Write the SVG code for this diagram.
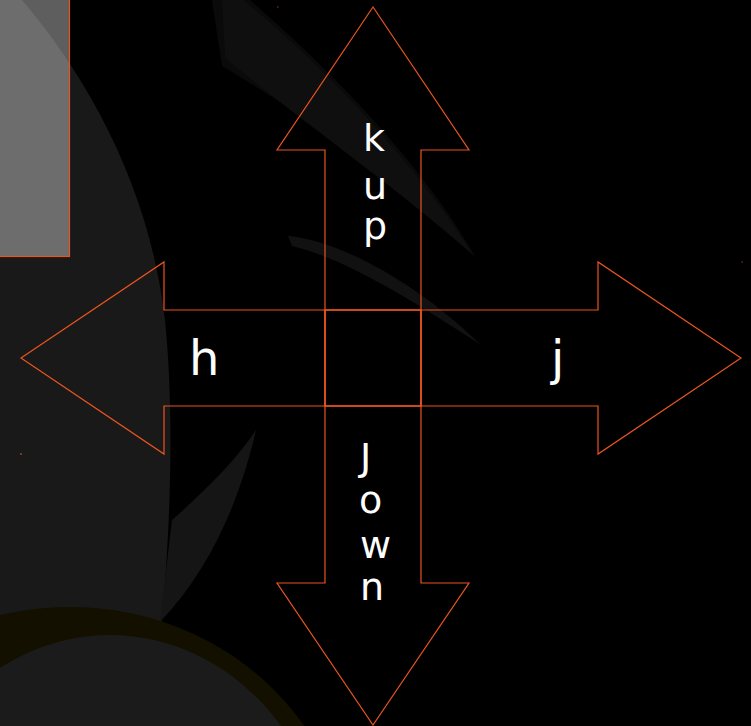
<svg xmlns="http://www.w3.org/2000/svg" width="751" height="726" viewBox="0 0 751 726">
  <style>
    .arrow { fill: none; stroke: #e9541f; stroke-width: 1.2; stroke-linejoin: miter; }
    .lbl { fill: #ffffff; font-family: "DejaVu Sans", "Liberation Sans", sans-serif; }
    .v { font-size: 38px; }
    .hz { font-size: 48px; }
  </style>
  <g id="background">
    <rect x="0" y="0" width="751" height="726" fill="#000000"/>
    <path d="M22 0 C90 80 150 190 165 320 C175 420 170 540 160 640 L150 726 L0 726 L0 0 Z" fill="#191919"/>
    <path d="M212 0 L250 0 C330 70 420 160 476 258 C420 200 330 130 222 66 Z" fill="#0a0a0a"/>
    <path d="M222 0 L243 0 C330 70 420 170 473 255 C400 190 300 120 225 58 Z" fill="#0f0f0f"/>
    <path d="M288 236 C340 240 420 285 481 345 C420 305 345 258 292 246 Z" fill="#111111"/>
    <path d="M172 520 C200 495 235 462 256 430 C240 500 210 570 160 622 Z" fill="#151515"/>
    <ellipse cx="70" cy="870" rx="280" ry="263" fill="#141000"/>
    <ellipse cx="110" cy="880" rx="220" ry="245" fill="#1b1b1b"/>
    <rect x="-2" y="-2" width="71.5" height="258.5" fill="#ffffff" fill-opacity="0.37" stroke="#e9541f" stroke-width="1.2"/>
    <rect x="20" y="453.5" width="2" height="1" fill="#e9541f"/>
    <rect x="277" y="6.5" width="1.5" height="1" fill="#a03a15"/>
    <rect x="741.5" y="261.5" width="1.5" height="1" fill="#a03a15"/>
  </g>
  <g id="connectors"></g>
  <g id="arrow-up">
    <path class="arrow" d="M373 7 L469 150 L421 150 L421 406 L325 406 L325 150 L277 150 Z"/>
    <text class="lbl v" x="363" y="151">k</text>
    <text class="lbl v" x="363" y="199">u</text>
    <text class="lbl v" x="363" y="239">p</text>
  </g>
  <g id="arrow-down">
    <path class="arrow" d="M325 310 L421 310 L421 583 L469 583 L373 725 L277 583 L325 583 Z"/>
    <text class="lbl v" x="360" y="470">J</text>
    <text class="lbl v" x="359" y="513">o</text>
    <text class="lbl v" x="360" y="558">w</text>
    <text class="lbl v" x="360" y="600">n</text>
  </g>
  <g id="arrow-left">
    <path class="arrow" d="M21 358 L164 262 L164 310 L421 310 L421 406 L164 406 L164 454 Z"/>
    <text class="lbl hz" x="189" y="375">h</text>
  </g>
  <g id="arrow-right">
    <path class="arrow" d="M325 310 L598 310 L598 262 L741 358 L598 454 L598 406 L325 406 Z"/>
    <text class="lbl hz" x="551" y="375">j</text>
  </g>
</svg>
